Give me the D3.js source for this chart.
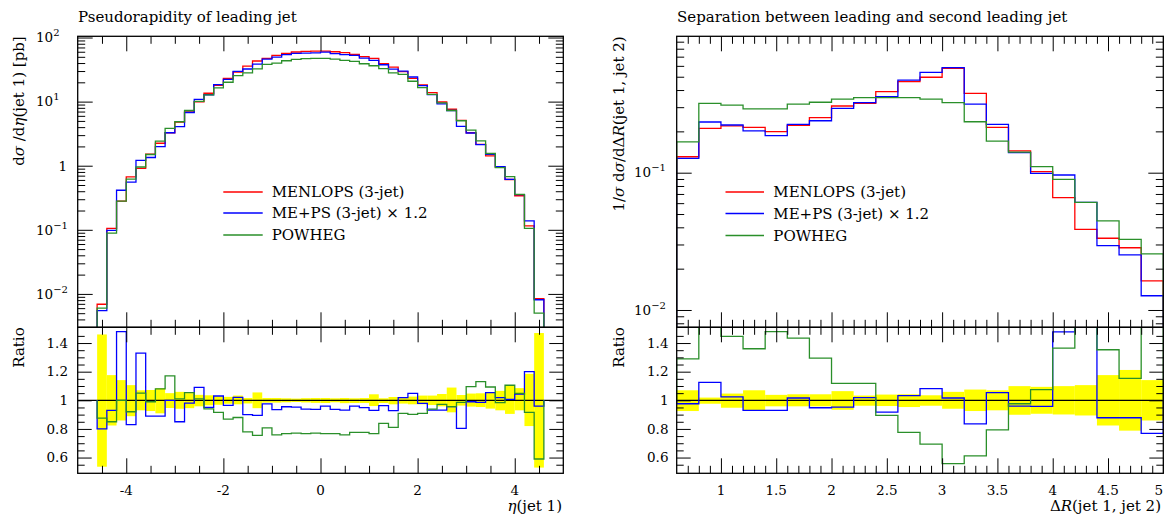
<!DOCTYPE html>
<html><head><meta charset="utf-8">
<script src="https://cdn.jsdelivr.net/npm/d3@7"></script>
<style>
body{margin:0;background:#fff}
svg{display:block}
text{font-family:"DejaVu Serif",serif;fill:#000}
</style>
</head><body>
<svg id="c" width="1164" height="521"></svg>
<script>
// ---------------- data ----------------
const etaEdges = [-4.6,-4.4,-4.2,-4.0,-3.8,-3.6,-3.4,-3.2,-3.0,-2.8,-2.6,-2.4,-2.2,-2.0,-1.8,-1.6,-1.4,-1.2,-1.0,-0.8,-0.6,-0.4,-0.2,0,
  0.2,0.4,0.6,0.8,1.0,1.2,1.4,1.6,1.8,2.0,2.2,2.4,2.6,2.8,3.0,3.2,3.4,3.6,3.8,4.0,4.2,4.4,4.6];
const etaMenlops = [0.0069,0.105,0.28,0.67,0.91,1.51,2.24,3.27,4.8,6.9,9.96,13.5,17.9,23.1,29,35.9,43,47.3,52.7,56.6,59.4,61,61.5,
  61.5,60,58,54.7,50.3,47.3,39,34.6,29.3,23.1,18.2,13.8,9.86,7.6,5.1,3.27,2.16,1.42,0.95,0.61,0.34,0.115,0.0084];
const etaMePs = [0.0055,0.098,0.414,0.556,1.21,1.344,1.99,3.27,4.08,6.76,10.86,12.8,18.4,22.3,29.6,32.3,38.5,46.1,49.3,54.1,56.6,57.3,57.6,
  59.0,56.2,54.1,52.5,47.7,44.0,37.6,32.1,29.9,24.2,17.8,12.9,9.19,7.27,4.10,3.24,2.13,1.50,0.968,0.614,0.355,0.138,0.0081];
const etaPowheg = [0.0060,0.089,0.28,0.616,0.955,1.495,2.42,3.83,4.85,7.27,10.06,12.7,16.4,20.05,25.5,28.0,32.5,38.2,39.9,43.4,45.7,46.8,47.4,
  47.2,46.0,44.0,42.4,39.0,36.3,32.7,28.1,26.6,20.8,16.5,12.96,9.58,7.27,5.03,3.58,2.44,1.55,0.935,0.674,0.357,0.105,0.0050];
const etaRatioMePs = [0.80,0.93,1.48,0.83,1.33,0.89,0.89,1.0,0.85,0.98,1.09,0.95,1.03,0.965,1.02,0.90,0.895,0.975,0.935,0.955,0.953,0.939,0.937,
  0.96,0.937,0.932,0.96,0.949,0.93,0.963,0.928,1.019,1.049,0.979,0.932,0.932,0.956,0.804,0.99,0.986,1.054,1.019,1.007,1.044,1.2,0.96];
const etaRatioPowheg = [0.875,0.85,1.0,0.92,1.05,0.99,1.08,1.17,1.01,1.054,1.01,0.94,0.916,0.868,0.88,0.78,0.755,0.808,0.758,0.767,0.77,0.767,0.77,
  0.767,0.767,0.758,0.776,0.776,0.767,0.839,0.811,0.909,0.902,0.909,0.939,0.972,0.956,0.986,1.096,1.131,1.093,0.984,1.105,1.049,0.916,0.59];
const etaBandHi = [1.46,1.176,1.141,1.106,1.07,1.072,1.085,1.05,1.059,1.05,1.038,1.035,1.028,1.024,1.033,1.016,1.055,1.016,1.016,1.014,1.012,1.015,1.016,
  1.016,1.014,1.016,1.014,1.016,1.042,1.014,1.023,1.019,1.026,1.033,1.033,1.044,1.089,1.037,1.047,1.049,1.056,1.066,1.105,1.085,1.185,1.47];
const etaBandLo = [0.536,0.824,0.859,0.889,0.93,0.925,0.909,0.946,0.941,0.945,0.958,0.965,0.969,0.976,0.972,0.978,0.945,0.984,0.984,0.986,0.988,0.985,0.982,
  0.981,0.986,0.98,0.981,0.981,0.96,0.981,0.972,0.977,0.972,0.972,0.967,0.958,0.916,0.963,0.956,0.953,0.942,0.93,0.905,0.93,0.82,0.53];

const drEdges = [0.6,0.8,1.0,1.2,1.4,1.6,1.8,2.0,2.2,2.4,2.6,2.8,3.0,3.2,3.4,3.6,3.8,4.0,4.2,4.4,4.6,4.8,5.0];
const drMenlops = [0.1307,0.2105,0.219,0.214,0.199,0.221,0.252,0.306,0.32,0.389,0.46,0.4955,0.576,0.378,0.214,0.144,0.1017,0.0658,0.0387,0.0333,0.0284,0.0163];
const drMePs = [0.127,0.234,0.2225,0.2015,0.186,0.225,0.239,0.294,0.3235,0.358,0.473,0.538,0.582,0.316,0.225,0.140,0.099,0.0962,0.0608,0.0294,0.0252,0.0127];
const drPowheg = [0.1675,0.32,0.311,0.292,0.292,0.316,0.326,0.343,0.352,0.352,0.352,0.344,0.3235,0.235,0.170,0.141,0.1107,0.0895,0.0608,0.0445,0.0327,0.0256];
const drRatioMePs = [0.976,1.125,1.024,0.93,0.93,1.016,0.948,0.953,1.019,0.918,1.033,1.082,1.016,0.835,1.054,0.96,0.958,1.478,1.57,0.878,0.878,0.769];
const drRatioPowheg = [1.29,1.52,1.447,1.36,1.48,1.435,1.294,1.118,1.118,0.894,0.776,0.694,0.558,0.612,0.793,0.976,1.075,1.365,1.57,1.353,1.153,1.57];
const drBandHi = [1.07,1.019,1.047,1.07,1.038,1.042,1.042,1.064,1.033,1.04,1.042,1.035,1.059,1.075,1.07,1.099,1.094,1.099,1.106,1.176,1.212,1.141];
const drBandLo = [0.925,0.976,0.948,0.93,0.958,0.958,0.958,0.934,0.962,0.96,0.953,0.962,0.941,0.925,0.93,0.899,0.906,0.901,0.894,0.824,0.788,0.859];

const seriesNames = ["MENLOPS (3-jet)", "ME+PS (3-jet) \u00d7 1.2", "POWHEG"];
const seriesColors = ["#ff0000", "#0000ff", "#2a8f2a"];

const etaTicks = [-4,-2,0,2,4];
const etaTickLabels = ["-4","-2","0","2","4"];
const drTicks = [1,1.5,2,2.5,3,3.5,4,4.5,5];
const drTickLabels = ["1","1.5","2","2.5","3","3.5","4","4.5","5"];
const ratioTicks = [0.6,0.8,1,1.2,1.4];
const ratioTickLabels = ["0.6","0.8","1","1.2","1.4"];
const etaLogTicks = [100,10,1,0.1,0.01];
const etaLogExp = ["2","1",null,"\u22121","\u22122"];
const drLogTicks = [0.1,0.01];
const drLogExp = ["\u22121","\u22122"];

// ---------------- layout ----------------
const svg = d3.select("#c");
const topY = 36.3, midY = 327.3, botY = 473.3;
const L = {x0:77.7, x1:563.3}, R = {x0:676.7, x1:1163.3};

const xEta = d3.scaleLinear().domain([-5,5]).range([L.x0,L.x1]);
const yEta = d3.scaleLog().domain([0.003013,104.5]).range([midY,topY]);
const xDr = d3.scaleLinear().domain([0.6,5]).range([R.x0,R.x1]);
const yDr = d3.scaleLog().domain([0.00748,0.985]).range([midY,topY]);
const yRatL = d3.scaleLinear().domain([0.49,1.51]).range([botY,midY]);
const yRatR = d3.scaleLinear().domain([0.49,1.51]).range([botY,midY]);

const defs = svg.append("defs");
function clip(id,x0,y0,x1,y1){
  defs.append("clipPath").attr("id",id).append("rect").attr("x",x0).attr("y",y0).attr("width",x1-x0).attr("height",y1-y0);
}
clip("cLm",L.x0,topY,L.x1,midY); clip("cLr",L.x0,midY,L.x1,botY);
clip("cRm",R.x0,topY,R.x1,midY); clip("cRr",R.x0,midY,R.x1,botY);

function histPath(edges, vals, x, y, base){
  let d = `M${x(edges[0])},${base}`;
  vals.forEach((v,i)=>{ d += `L${x(edges[i])},${y(v)}L${x(edges[i+1])},${y(v)}`; });
  d += `L${x(edges[edges.length-1])},${base}`;
  return d;
}

function drawMain(clipId, edges, sets, x, y){
  const g = svg.append("g").attr("clip-path",`url(#${clipId})`);
  sets.forEach((vals,k)=>{
    g.append("path").attr("d",histPath(edges,vals,x,y,midY+2))
      .attr("fill","none").attr("stroke",seriesColors[k]).attr("stroke-width",1.3);
  });
}
function drawRatio(clipId, edges, lo, hi, ratios, x, y, x0, x1){
  const g = svg.append("g").attr("clip-path",`url(#${clipId})`);
  g.selectAll("rect.band").data(lo).join("rect")
    .attr("x",(d,i)=>x(edges[i])).attr("width",(d,i)=>x(edges[i+1])-x(edges[i]))
    .attr("y",(d,i)=>y(hi[i])).attr("height",(d,i)=>y(lo[i])-y(hi[i]))
    .attr("fill","#ffff00");
  g.append("line").attr("x1",x0).attr("x2",x1).attr("y1",y(1)).attr("y2",y(1))
    .attr("stroke","#000").attr("stroke-width",1.2);
  ratios.forEach((vals,k)=>{
    g.append("path").attr("d",histPath(edges,vals,x,y,y(1)))
      .attr("fill","none").attr("stroke",seriesColors[k+1]).attr("stroke-width",1.3);
  });
}

function ticks(g, axisFn, scale, values, size, tr){
  const a = g.append("g").attr("transform",tr)
    .call(axisFn(scale).tickValues(values).tickSize(-size).tickFormat(""));
  a.select(".domain").remove();
  a.selectAll("line").attr("stroke","#000").attr("stroke-width",1);
}

function frame(x0,x1,y0,y1){
  svg.append("rect").attr("x",x0).attr("y",y0).attr("width",x1-x0).attr("height",y1-y0)
    .attr("fill","none").attr("stroke","#000").attr("stroke-width",1.3);
}

function logMinor(dom){
  const out=[];
  for(let e=Math.floor(Math.log10(dom[0]));e<=Math.ceil(Math.log10(dom[1]));e++){
    for(let m=2;m<=9;m++){const v=m*Math.pow(10,e); if(v>dom[0]&&v<dom[1]) out.push(v);}
  }
  return out;
}

// ---- left panel ----
drawMain("cLm", etaEdges, [etaMenlops, etaMePs, etaPowheg], xEta, yEta);
drawRatio("cLr", etaEdges, etaBandLo, etaBandHi, [etaRatioMePs, etaRatioPowheg], xEta, yRatL, L.x0, L.x1);
// ---- right panel ----
drawMain("cRm", drEdges, [drMenlops, drMePs, drPowheg], xDr, yDr);
drawRatio("cRr", drEdges, drBandLo, drBandHi, [drRatioMePs, drRatioPowheg], xDr, yRatR, R.x0, R.x1);

const gt = svg.append("g");
// x ticks
const etaMinor = d3.range(-4.5,4.6,0.5).filter(v=>Math.abs(v%2)>0.01);
const drMinor = d3.range(0.7,4.95,0.1).filter(v=>Math.abs(v*2-Math.round(v*2))>0.01);
[[topY,midY],[midY,botY]].forEach(([y0,y1])=>{
  ticks(gt,d3.axisTop,xEta,etaTicks,15,`translate(0,${y0})`);
  ticks(gt,d3.axisTop,xEta,etaMinor,7.5,`translate(0,${y0})`);
  ticks(gt,d3.axisBottom,xEta,etaTicks,15,`translate(0,${y1})`);
  ticks(gt,d3.axisBottom,xEta,etaMinor,7.5,`translate(0,${y1})`);
  ticks(gt,d3.axisTop,xDr,drTicks,15,`translate(0,${y0})`);
  ticks(gt,d3.axisTop,xDr,drMinor,7.5,`translate(0,${y0})`);
  ticks(gt,d3.axisBottom,xDr,drTicks,15,`translate(0,${y1})`);
  ticks(gt,d3.axisBottom,xDr,drMinor,7.5,`translate(0,${y1})`);
});
// y ticks main
ticks(gt,d3.axisLeft,yEta,etaLogTicks,15,`translate(${L.x0},0)`);
ticks(gt,d3.axisLeft,yEta,logMinor(yEta.domain()),7.5,`translate(${L.x0},0)`);
ticks(gt,d3.axisRight,yEta,etaLogTicks,15,`translate(${L.x1},0)`);
ticks(gt,d3.axisRight,yEta,logMinor(yEta.domain()),7.5,`translate(${L.x1},0)`);
ticks(gt,d3.axisLeft,yDr,drLogTicks,15,`translate(${R.x0},0)`);
ticks(gt,d3.axisLeft,yDr,logMinor(yDr.domain()),7.5,`translate(${R.x0},0)`);
ticks(gt,d3.axisRight,yDr,drLogTicks,15,`translate(${R.x1},0)`);
ticks(gt,d3.axisRight,yDr,logMinor(yDr.domain()),7.5,`translate(${R.x1},0)`);
// ratio y ticks
const ratMinor = d3.range(0.55,1.5,0.05).filter(v=>Math.abs(v*5-Math.round(v*5))>0.01);
[[yRatL,L],[yRatR,R]].forEach(([ys,P])=>{
  ticks(gt,d3.axisLeft,ys,ratioTicks,14,`translate(${P.x0},0)`);
  ticks(gt,d3.axisLeft,ys,ratMinor,7,`translate(${P.x0},0)`);
  ticks(gt,d3.axisRight,ys,ratioTicks,14,`translate(${P.x1},0)`);
  ticks(gt,d3.axisRight,ys,ratMinor,7,`translate(${P.x1},0)`);
});

frame(L.x0,L.x1,topY,midY); frame(L.x0,L.x1,midY,botY);
frame(R.x0,R.x1,topY,midY); frame(R.x0,R.x1,midY,botY);

// ---------------- labels ----------------
const fs = 13.5;
etaTicks.forEach((v,i)=>svg.append("text").attr("x",xEta(v)).attr("y",495).attr("text-anchor","middle")
  .attr("font-size",fs).text(etaTickLabels[i]));
drTicks.forEach((v,i)=>{
  const last = i===drTicks.length-1;
  svg.append("text").attr("x",last?1163:xDr(v)).attr("y",495).attr("text-anchor",last?"end":"middle")
    .attr("font-size",fs).text(drTickLabels[i]);
});
ratioTicks.forEach((v,i)=>{
  svg.append("text").attr("x",68).attr("y",yRatL(v)+4.8).attr("text-anchor","end").attr("font-size",fs).text(ratioTickLabels[i]);
  svg.append("text").attr("x",668.5).attr("y",yRatR(v)+4.8).attr("text-anchor","end").attr("font-size",fs).text(ratioTickLabels[i]);
});
function logLabel(x, y, exp){
  if(exp===null){
    svg.append("text").attr("x",67).attr("y",y+4.8).attr("text-anchor","end").attr("font-size",fs).text("1");
    return;
  }
  const t = svg.append("text").attr("x",x).attr("y",y+4.8).attr("font-size",fs);
  t.append("tspan").text("10");
  t.append("tspan").attr("dy",-6).attr("font-size",10).text(exp);
}
etaLogTicks.forEach((v,i)=>logLabel(36,yEta(v),etaLogExp[i]));
drLogTicks.forEach((v,i)=>logLabel(634,yDr(v),drLogExp[i]));

// titles
svg.append("text").attr("x",78).attr("y",21.5).attr("font-size",15).text("Pseudorapidity of leading jet");
svg.append("text").attr("x",677).attr("y",21.5).attr("font-size",15).text("Separation between leading and second leading jet");

// axis titles
function rotLabel(x,y,parts){
  const t = svg.append("text").attr("transform",`translate(${x},${y}) rotate(-90)`).attr("text-anchor","end").attr("font-size",15);
  parts.forEach(p=>{ const s=t.append("tspan").text(p[0]); if(p[1]) s.attr("font-style","italic"); });
}
rotLabel(23.5,topY,[["d"],["\u03c3",1],[" /d"],["\u03b7",1],["(jet 1) [pb]"]]);
rotLabel(23.5,midY,[["Ratio"]]);
rotLabel(623.5,topY,[["1/"],["\u03c3",1],[" d"],["\u03c3",1],["/d\u0394"],["R",1],["(jet 1, jet 2)"]]);
rotLabel(623.5,midY,[["Ratio"]]);

function xTitle(x,parts){
  const t = svg.append("text").attr("x",x).attr("y",511).attr("text-anchor","end").attr("font-size",15);
  parts.forEach(p=>{ const s=t.append("tspan").text(p[0]); if(p[1]) s.attr("font-style","italic"); });
}
xTitle(562,[["\u03b7",1],["(jet 1)"]]);
xTitle(1161,[["\u0394"],["R",1],["(jet 1, jet 2)"]]);

// legends
function legend(lx0,lx1,tx,rows){
  rows.forEach((ry,k)=>{
    svg.append("line").attr("x1",lx0).attr("x2",lx1).attr("y1",ry).attr("y2",ry)
      .attr("stroke",seriesColors[k]).attr("stroke-width",1.3);
    svg.append("text").attr("x",tx).attr("y",ry+5.3).attr("font-size",15).text(seriesNames[k]);
  });
}
legend(223.3,262.7,271.7,[192,213,235]);
legend(725.5,764,773.3,[192,213.5,235.5]);
</script>
</body></html>
